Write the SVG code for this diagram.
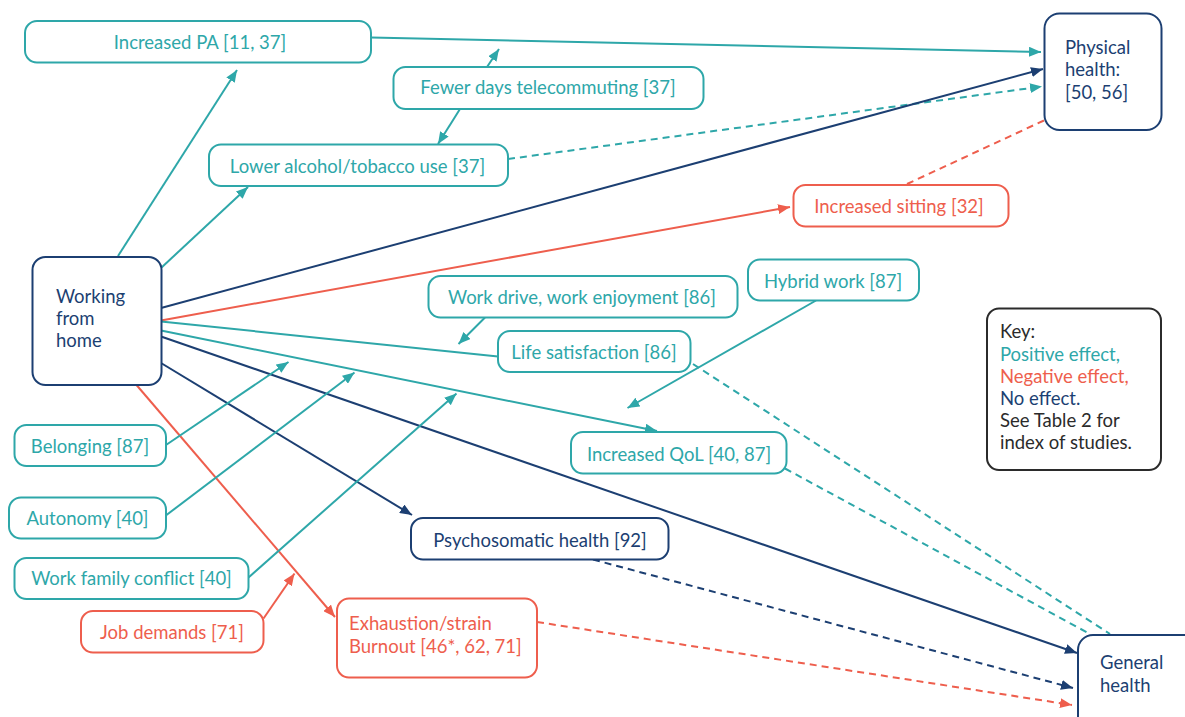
<svg xmlns="http://www.w3.org/2000/svg" width="1185" height="717" viewBox="0 0 1185 717">
  <style>
    text { font-family: "Lato", "Liberation Sans", sans-serif; font-size: 18.5px; }
    .box { fill: #ffffff; stroke-width: 2; }
    .pos { stroke: #2ea7a9; }
    .neg { stroke: #ee5e4d; }
    .nil { stroke: #1c3f72; }
    .key { stroke: #2b2b2b; }
    .tpos { fill: #2ea7a9; }
    .tneg { fill: #ee5e4d; }
    .tnil { fill: #1c3f72; }
    .tkey { fill: #2b2b2b; }
    .c { text-anchor: middle; }
    .ln { fill: none; stroke-width: 2; }
    .dash { stroke-dasharray: 7 5; }
  </style>
  <defs>
    <marker id="ahPos" viewBox="0 0 12 10" refX="12" refY="5" markerWidth="12" markerHeight="10" markerUnits="userSpaceOnUse" orient="auto">
      <path d="M0,0 L12,5 L0,10 z" fill="#2ea7a9"/>
    </marker>
    <marker id="ahNeg" viewBox="0 0 12 10" refX="12" refY="5" markerWidth="12" markerHeight="10" markerUnits="userSpaceOnUse" orient="auto">
      <path d="M0,0 L12,5 L0,10 z" fill="#ee5e4d"/>
    </marker>
    <marker id="ahNil" viewBox="0 0 12 10" refX="12" refY="5" markerWidth="12" markerHeight="10" markerUnits="userSpaceOnUse" orient="auto">
      <path d="M0,0 L12,5 L0,10 z" fill="#1c3f72"/>
    </marker>
  </defs>

  <g id="connectors">
    <!-- into Physical health -->
    <line class="ln pos" x1="371" y1="37.5" x2="1041" y2="52" marker-end="url(#ahPos)"/>
    <line class="ln pos dash" x1="508" y1="159" x2="1042" y2="86.5" marker-end="url(#ahPos)"/>
    <line class="ln nil" x1="161" y1="308" x2="1043" y2="69" marker-end="url(#ahNil)"/>
    <line class="ln neg dash" x1="907" y1="184" x2="1045" y2="120"/>
    <!-- out of Working from home -->
    <line class="ln pos" x1="118" y1="256" x2="237" y2="70" marker-end="url(#ahPos)"/>
    <line class="ln pos" x1="161" y1="268" x2="248" y2="187" marker-end="url(#ahPos)"/>
    <line class="ln neg" x1="161" y1="320.5" x2="790" y2="207" marker-end="url(#ahNeg)"/>
    <line class="ln pos" x1="161" y1="321.5" x2="498" y2="356.5"/>
    <line class="ln pos" x1="161" y1="330.5" x2="657" y2="431" marker-end="url(#ahPos)"/>
    <line class="ln nil" x1="161" y1="336.5" x2="1077" y2="653" marker-end="url(#ahNil)"/>
    <line class="ln nil" x1="161" y1="363" x2="412" y2="515" marker-end="url(#ahNil)"/>
    <line class="ln neg" x1="136.5" y1="385" x2="335" y2="617" marker-end="url(#ahNeg)"/>
    <!-- telecommuting -->
    <line class="ln pos" x1="487" y1="67" x2="499" y2="49" marker-end="url(#ahPos)"/>
    <line class="ln pos" x1="460" y1="109" x2="438" y2="144" marker-end="url(#ahPos)"/>
    <!-- moderators -->
    <line class="ln pos" x1="485" y1="317.5" x2="458.5" y2="344" marker-end="url(#ahPos)"/>
    <line class="ln pos" x1="816" y1="300.5" x2="627.5" y2="408" marker-end="url(#ahPos)"/>
    <line class="ln pos" x1="166" y1="445" x2="288.5" y2="362" marker-end="url(#ahPos)"/>
    <line class="ln pos" x1="166.5" y1="515" x2="354.5" y2="372.5" marker-end="url(#ahPos)"/>
    <line class="ln pos" x1="248.5" y1="577.5" x2="456.5" y2="393.5" marker-end="url(#ahPos)"/>
    <line class="ln neg" x1="263.5" y1="618.5" x2="294.5" y2="573.5" marker-end="url(#ahNeg)"/>
    <!-- into General health -->
    <line class="ln pos dash" x1="693" y1="364" x2="1110" y2="634"/>
    <line class="ln pos dash" x1="785" y1="468.5" x2="1090" y2="634"/>
    <line class="ln nil dash" x1="593" y1="559.5" x2="1073" y2="688" marker-end="url(#ahNil)"/>
    <line class="ln neg dash" x1="537" y1="622" x2="1072" y2="705" marker-end="url(#ahNeg)"/>
  </g>

  <g id="increased-pa">
    <rect class="box pos" x="25" y="21" width="346" height="41.5" rx="12"/>
    <text class="tpos c" x="200" y="49">Increased PA [11, 37]</text>
  </g>
  <g id="fewer-days">
    <rect class="box pos" x="393.5" y="67" width="310" height="42" rx="12"/>
    <text class="tpos c" x="548" y="94">Fewer days telecommuting [37]</text>
  </g>
  <g id="lower-alcohol">
    <rect class="box pos" x="209" y="144.5" width="299" height="41.5" rx="12"/>
    <text class="tpos c" x="357.5" y="172.5">Lower alcohol/tobacco use [37]</text>
  </g>
  <g id="physical-health">
    <rect class="box nil" x="1044.5" y="13.5" width="117" height="116.5" rx="15"/>
    <text class="tnil" x="1065" y="54">Physical</text>
    <text class="tnil" x="1065" y="76">health:</text>
    <text class="tnil" x="1065" y="99">[50, 56]</text>
  </g>
  <g id="increased-sitting">
    <rect class="box neg" x="793.5" y="185" width="215" height="41.5" rx="12"/>
    <text class="tneg c" x="899" y="213">Increased sitting [32]</text>
  </g>
  <g id="working-from-home">
    <rect class="box nil" x="32.5" y="257" width="129" height="128" rx="13"/>
    <text class="tnil" x="56" y="303">Working</text>
    <text class="tnil" x="56" y="325">from</text>
    <text class="tnil" x="56" y="346.5">home</text>
  </g>
  <g id="work-drive">
    <rect class="box pos" x="428.5" y="276" width="309" height="41.5" rx="12"/>
    <text class="tpos c" x="582" y="304">Work drive, work enjoyment [86]</text>
  </g>
  <g id="life-satisfaction">
    <rect class="box pos" x="498" y="331" width="192.5" height="41" rx="12"/>
    <text class="tpos c" x="594" y="359">Life satisfaction [86]</text>
  </g>
  <g id="hybrid-work">
    <rect class="box pos" x="748" y="259.5" width="171" height="41" rx="12"/>
    <text class="tpos c" x="833" y="288">Hybrid work [87]</text>
  </g>
  <g id="increased-qol">
    <rect class="box pos" x="571" y="432" width="215.5" height="41.5" rx="12"/>
    <text class="tpos c" x="679" y="460.5">Increased QoL [40, 87]</text>
  </g>
  <g id="key">
    <rect class="box key" x="987" y="308.5" width="174" height="161.5" rx="12"/>
    <text class="tkey" x="1000" y="338">Key:</text>
    <text class="tpos" x="1000" y="360.5">Positive effect,</text>
    <text class="tneg" x="1000" y="382.5">Negative effect,</text>
    <text class="tnil" x="1000" y="404.5">No effect.</text>
    <text class="tkey" x="1000" y="426.5">See Table 2 for</text>
    <text class="tkey" x="1000" y="448.5">index of studies.</text>
  </g>
  <g id="belonging">
    <rect class="box pos" x="14.5" y="425" width="151.5" height="41" rx="12"/>
    <text class="tpos c" x="90" y="453">Belonging [87]</text>
  </g>
  <g id="autonomy">
    <rect class="box pos" x="9" y="497.5" width="157" height="41" rx="12"/>
    <text class="tpos c" x="87.5" y="525">Autonomy [40]</text>
  </g>
  <g id="work-family-conflict">
    <rect class="box pos" x="14.5" y="558" width="234" height="41" rx="12"/>
    <text class="tpos c" x="131.5" y="585">Work family conflict [40]</text>
  </g>
  <g id="job-demands">
    <rect class="box neg" x="81" y="611" width="182.5" height="41.5" rx="12"/>
    <text class="tneg c" x="172" y="639">Job demands [71]</text>
  </g>
  <g id="exhaustion">
    <rect class="box neg" x="337" y="598.5" width="200" height="79" rx="12"/>
    <text class="tneg" x="349" y="630">Exhaustion/strain</text>
    <text class="tneg" x="349" y="652.5">Burnout [46*, 62, 71]</text>
  </g>
  <g id="psychosomatic-health">
    <rect class="box nil" x="411" y="518" width="257.5" height="41.5" rx="12"/>
    <text class="tnil c" x="540" y="546.5">Psychosomatic health [92]</text>
  </g>
  <g id="general-health">
    <rect class="box nil" x="1078" y="635" width="130" height="110" rx="15"/>
    <text class="tnil" x="1100" y="668.5">General</text>
    <text class="tnil" x="1100" y="691.5">health</text>
  </g>
</svg>
